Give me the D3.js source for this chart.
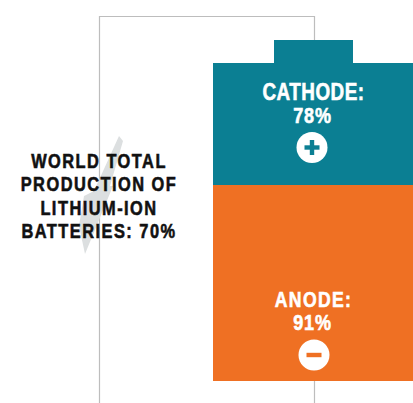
<!DOCTYPE html>
<html>
<head>
<meta charset="utf-8">
<script src="https://cdn.jsdelivr.net/npm/d3@7"></script>
<style>
  body { margin: 0; background: #fff; }
  svg text { font-family: "Liberation Sans", Arial, sans-serif; font-weight: bold; }
</style>
</head>
<body>
<div id="chart"></div>
<script>
// battery parts, their share and sign
const parts = ["CATHODE", "ANODE"]
const shares = [78, 91]
const signs = ["+", "-"]
const totalLabel = ["WORLD TOTAL", "PRODUCTION OF", "LITHIUM-ION", "BATTERIES:"]
const totalShare = 70

const width = 413, height = 403
const teal = "#0b7f93", orange = "#ef7023"
const narrow = 0.82 // squeeze to imitate a condensed face

const svg = d3.select("#chart").append("svg")
    .attr("width", width).attr("height", height)

const color = d3.scaleOrdinal().domain(parts).range([teal, orange])

// vertical split of the battery body
const y = d3.scaleOrdinal().domain(parts).range([63, 185])
const yEnd = d3.scaleOrdinal().domain(parts).range([185, 381])
const bodyX = 213, bodyW = 200, midX = 312.5

function label(sel, x, yy, txt, size, ls, fill) {
    return sel.append("text")
        .attr("transform", `translate(${x},${yy}) scale(${narrow},1)`)
        .attr("text-anchor", "middle")
        .attr("fill", fill)
        .attr("stroke", fill)
        .attr("stroke-width", 0.6)
        .attr("font-size", size)
        .attr("letter-spacing", ls)
        .text(txt)
}

// thin outline behind the battery
svg.append("path")
    .attr("d", "M99.5,403V16.5H314.5V403")
    .attr("fill", "none")
    .attr("stroke", "#bdbdbd")
    .attr("stroke-width", 1.2)

// lightning bolt
svg.append("path")
    .attr("d", "M119,136 L123,141 L110,186 L113,186 L85,254 L79,226 L84,196 L94,191 Z")
    .attr("fill", "#dcdfe0")

// cap
svg.append("rect")
    .attr("x", 274).attr("y", 40).attr("width", 79).attr("height", 24)
    .attr("fill", teal)

const seg = svg.selectAll("g.seg").data(parts).enter().append("g").attr("class", "seg")

seg.append("rect")
    .attr("x", bodyX).attr("width", bodyW)
    .attr("y", d => y(d))
    .attr("height", d => yEnd(d) - y(d))
    .attr("fill", d => color(d))

seg.each(function(d, i) {
    const g = d3.select(this)
    const top = y(d)
    const base = i == 0 ? top + 36.5 : top + 122
    label(g, midX + 1, base, d + ":", i == 0 ? 23 : 21.5, i == 0 ? 0.6 : 1.6, "#fff")
    label(g, midX, base + 23, shares[i] + "%", 22, 1, "#fff")
    const cx = i == 0 ? 312 : 314
    const cy = base + 48
    g.append("circle").attr("cx", cx).attr("cy", cy).attr("r", 15.5).attr("fill", "#fff")
    g.append("rect").attr("x", cx - 7.5).attr("y", cy - 2.2).attr("width", 15).attr("height", 4.4)
        .attr("fill", color(d))
    if (signs[i] == "+") {
        g.append("rect").attr("x", cx - 2.2).attr("y", cy - 7.5).attr("width", 4.4).attr("height", 15)
            .attr("fill", color(d))
    }
})

// left label
const lines = totalLabel.slice()
lines[lines.length - 1] += " " + totalShare + "%"
const left = svg.append("g")
lines.forEach((t, i) => label(left, 99, 168 + i * 23.3, t, 20, 1.8, "#111"))
</script>
</body>
</html>
